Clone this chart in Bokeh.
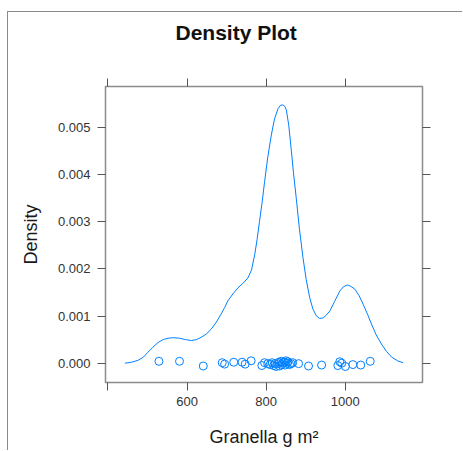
from bokeh.plotting import figure
from bokeh.models import LinearAxis, FixedTicker, Range1d
from bokeh.embed import file_html
from bokeh.resources import INLINE

# ---- data ----
dens_x = [443, 460, 476, 490, 501, 514, 527, 540, 552, 566, 581, 596, 611, 624, 636,
          649, 661, 674, 686, 695, 703, 716, 729, 742, 754, 763, 771, 777, 783, 790,
          796, 804, 813, 821, 830, 836, 842, 847, 851, 857, 863, 869, 876, 884, 893,
          901, 910, 918, 927, 935, 944, 952, 961, 973, 986, 995, 1005, 1014, 1024,
          1035, 1045, 1056, 1066, 1078, 1091, 1104, 1117, 1132, 1146]
dens_y = [0.00000, 0.00002, 0.00006, 0.00013, 0.00023, 0.00034, 0.00044, 0.00050,
          0.00053, 0.00054, 0.00053, 0.00050, 0.00048, 0.00050, 0.00055, 0.00062,
          0.00072, 0.00087, 0.00104, 0.00118, 0.00132, 0.00147, 0.00160, 0.00170,
          0.00181, 0.00198, 0.00230, 0.00262, 0.00300, 0.00343, 0.00385, 0.00437,
          0.00484, 0.00518, 0.00540, 0.00547, 0.00548, 0.00545, 0.00537, 0.00505,
          0.00456, 0.00404, 0.00350, 0.00285, 0.00224, 0.00178, 0.00139, 0.00115,
          0.00100, 0.00095, 0.00096, 0.00102, 0.00111, 0.00131, 0.00153, 0.00162,
          0.00166, 0.00163, 0.00157, 0.00143, 0.00125, 0.00104, 0.00083, 0.00060,
          0.00041, 0.00025, 0.00013, 0.00005, 0.00001]

obs_x = [529, 581, 641, 689, 695, 718, 739, 747, 762, 789, 796, 804, 810, 815, 819,
         822, 825, 829, 832, 834, 838, 840, 842, 846, 848, 850, 853, 855, 859, 863,
         867, 882, 907, 940, 981, 986, 991, 1000, 1019, 1039, 1063]
obs_jit = [0.00004, 0.00004, -0.00006, 0.00001, -0.00002, 0.00002, 0.00002, -0.00002,
           0.00005, -0.00005, 0.00001, -0.00001, -0.00003, 0.00001, -0.00005, -0.00001,
           -0.00007, -0.00001, 0.00002, -0.00006, 0.00004, -0.00003, 0.00001, 0.00002,
           -0.00004, 0.00005, 0.00000, 0.00003, -0.00003, -0.00001, 0.00001, -0.00001,
           -0.00006, -0.00004, -0.00005, 0.00003, 0.00000, -0.00007, -0.00003, -0.00004,
           0.00004]

x_ticks = [400, 600, 800, 1000]
x_tick_labels = ["", "600", "800", "1000"]
y_ticks = [0.000, 0.001, 0.002, 0.003, 0.004, 0.005]
y_tick_labels = ["0.000", "0.001", "0.002", "0.003", "0.004", "0.005"]
title_text = "Density Plot"

COL = "#0080ff"
FONT = "Liberation Sans"

p = figure(width=455, height=439, x_range=Range1d(394, 1195),
           y_range=Range1d(-0.00041, 0.00587), output_backend="svg",
           toolbar_location=None, x_axis_location=None, y_axis_location=None)
p.min_border_left = 97
p.min_border_right = 41
p.min_border_top = 74
p.min_border_bottom = 69
p.outline_line_color = "#8c8c8c"
p.outline_line_width = 1.5
p.background_fill_color = "white"
p.border_fill_color = "white"
p.grid.visible = False
p.margin = (11, 0, 0, 7)
p.styles = {"border-top": "1px solid #8a8a8a", "border-left": "1px solid #8a8a8a"}

p.title.text = title_text
p.title.text_font = FONT
p.title.text_font_size = "21px"
p.title.text_font_style = "bold"
p.title.text_color = "#111111"
p.title.align = "left"
p.title.offset = 70
p.title.vertical_align = "top"
p.title.standoff = 10


def style(ax, labels_on):
    ax.axis_line_color = None
    ax.major_tick_in = 0
    ax.major_tick_out = 8
    ax.major_tick_line_color = "#555555"
    ax.minor_tick_line_color = None
    ax.major_label_text_font = FONT
    ax.major_label_text_font_size = "13px" if labels_on else "1px"
    ax.major_label_text_color = "#333333"
    ax.axis_label_text_font = FONT
    ax.axis_label_text_font_size = "18px"
    ax.axis_label_text_font_style = "normal"
    ax.axis_label_text_color = "#1a1a1a"


bx = LinearAxis(ticker=FixedTicker(ticks=x_ticks),
                major_label_overrides={t: l for t, l in zip(x_ticks, x_tick_labels)},
                axis_label="Granella g m²")
style(bx, True)
bx.major_label_standoff = 6
bx.axis_label_standoff = 18
p.add_layout(bx, "below")

tx = LinearAxis(ticker=FixedTicker(ticks=x_ticks),
                major_label_overrides={t: "" for t in x_ticks},
                axis_label=" ")
style(tx, False)
tx.major_label_standoff = 0
tx.axis_label_text_font_size = "1px"
tx.axis_label_standoff = 24
p.add_layout(tx, "above")

ly = LinearAxis(ticker=FixedTicker(ticks=y_ticks),
                major_label_overrides={t: l for t, l in zip(y_ticks, y_tick_labels)},
                axis_label="Density")
style(ly, True)
ly.major_label_standoff = 7
ly.axis_label_standoff = 14
ly.major_label_orientation = "horizontal"
p.add_layout(ly, "left")

ry = LinearAxis(ticker=FixedTicker(ticks=y_ticks),
                major_label_overrides={t: "" for t in y_ticks})
style(ry, False)
ry.major_label_standoff = 0
p.add_layout(ry, "right")

p.line(dens_x, dens_y, line_color=COL, line_width=1.0)
p.scatter(obs_x, obs_jit, marker="circle", size=8, fill_color=None,
          line_color=COL, line_width=1)

open("out.html", "w").write(file_html(p, INLINE))
